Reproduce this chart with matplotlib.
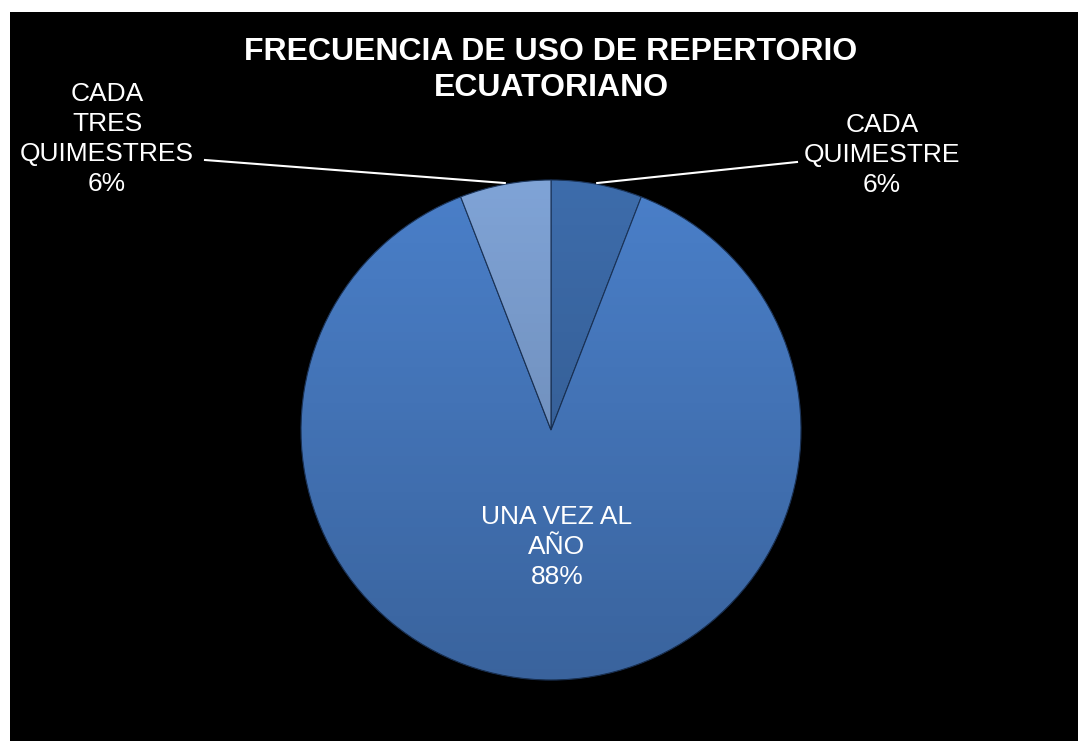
import numpy as np
import matplotlib
matplotlib.use("Agg")
import matplotlib.pyplot as plt

# data
labels = ["CADA QUIMESTRE", "UNA VEZ AL AÑO", "CADA TRES QUIMESTRES"]
label_text = ["CADA\nQUIMESTRE", "UNA VEZ AL\nAÑO", "CADA\nTRES\nQUIMESTRES"]
counts = [1, 15, 1]
colors = ["#3d6cab", "#4a7fc9", "#7fa3d6"]
title = "FRECUENCIA DE USO DE REPERTORIO\nECUATORIANO"

plt.rcParams['font.family'] = ['Liberation Sans', 'DejaVu Sans']

fig = plt.figure(figsize=(10.78, 7.41), dpi=100)
fig.patch.set_facecolor("white")

# black chart area
bg = fig.add_axes([10 / 1078, 0, 1068 / 1078, 729 / 741])
bg.set_facecolor("black")
bg.set_xticks([])
bg.set_yticks([])
for s in bg.spines.values():
    s.set_visible(False)

ax = fig.add_axes([301 / 1078, 61 / 741, 500 / 1078, 500 / 741])
wedges, _ = ax.pie(counts, colors=colors, startangle=90, counterclock=False,
                   wedgeprops=dict(edgecolor="#1c355a", linewidth=0.8))
ax.set_xlim(-1, 1)
ax.set_ylim(-1, 1)
ax.set_aspect("equal")
ax.axis("off")

# soft shading, darker towards the bottom
shade = np.zeros((200, 2, 4))
shade[:, :, 3] = np.linspace(0.0, 0.22, 200)[:, None]
for w in wedges:
    im = ax.imshow(shade, extent=(-1, 1, -1, 1), origin="upper",
                   aspect="auto", zorder=2)
    im.set_clip_path(w)

total = sum(counts)
pcts = ["%d%%" % round(100 * c / total) for c in counts]

# outside labels with leader lines
outside = {0: ((1.324, 1.10), (0.984, 1.072)),
           2: ((-1.776, 1.164), (-1.384, 1.08))}
for i, w in enumerate(wedges):
    mid = np.deg2rad((w.theta1 + w.theta2) / 2)
    txt = label_text[i] + "\n" + pcts[i]
    if i in outside:
        (tx, ty), (lx, ly) = outside[i]
        ax.plot([np.cos(mid) * 1.005, lx], [np.sin(mid) * 1.005, ly],
                color="white", lw=1.5, clip_on=False)
        ax.text(tx, ty, txt, ha="center", va="center", color="white",
                fontsize=19, linespacing=1.33, clip_on=False)
    else:
        ax.text(0.024, -0.468, txt, ha="center", va="center", color="white",
                fontsize=19, linespacing=1.3, zorder=3)

fig.text(551 / 1078, 1 - 70 / 741, title, ha="center", va="center",
         color="white", fontsize=23, fontweight="bold", linespacing=1.25)

fig.savefig("out.png", dpi=100, facecolor=fig.get_facecolor())
